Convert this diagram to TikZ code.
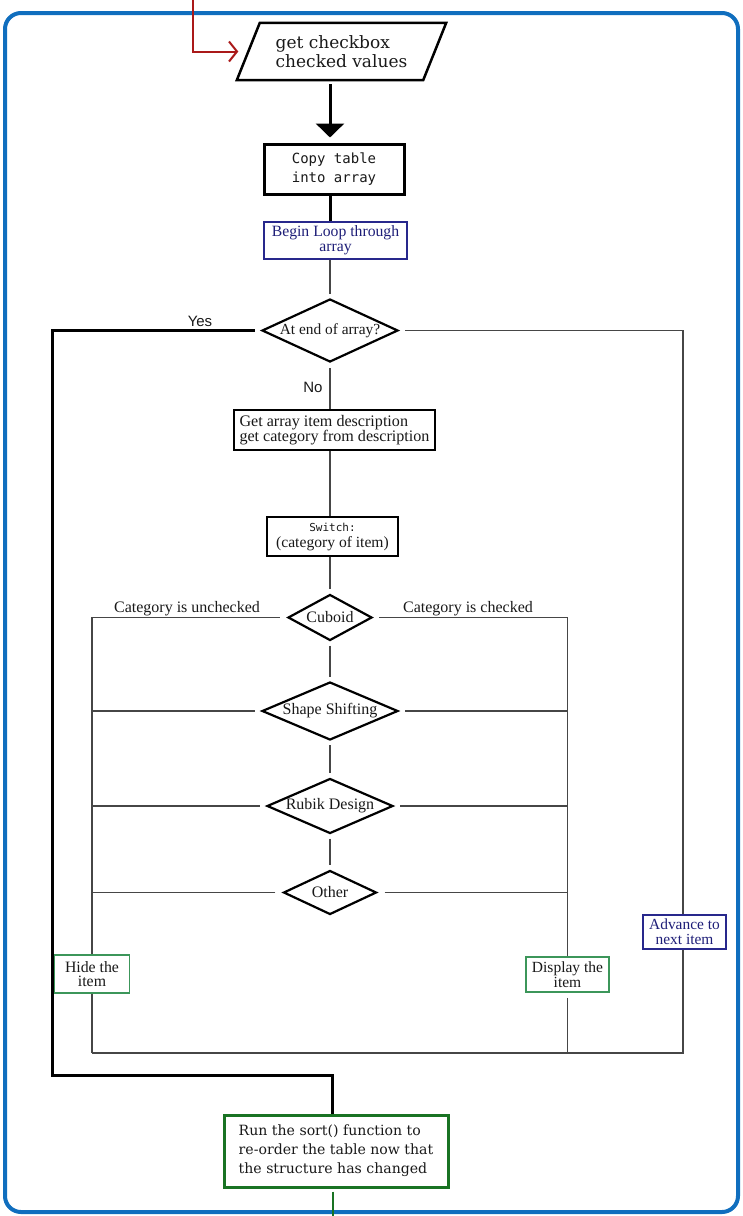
\documentclass[tikz,border=0pt]{standalone}
\usepackage{fontspec}
\setmainfont{Liberation Serif}
\newfontfamily\sansf{Liberation Sans}
\newfontfamily\monof{DejaVu Sans Mono}
\newfontfamily\wideserif{DejaVu Serif}
\usetikzlibrary{shapes.geometric,arrows.meta}
\definecolor{framecol}{RGB}{16,110,190}
\definecolor{redcol}{RGB}{170,25,25}
\definecolor{navycol}{RGB}{40,40,140}
\definecolor{navytxt}{RGB}{30,30,120}
\definecolor{greencol}{RGB}{60,150,90}
\definecolor{darkgreen}{RGB}{25,115,35}
\definecolor{linecol}{RGB}{70,70,70}
\definecolor{txtcol}{RGB}{25,25,25}
\newcommand\fsz[2]{\fontsize{#1}{#2}\selectfont}
\tikzset{
  thinln/.style={draw=linecol, line width=1.3pt},
  thickln/.style={draw=black, line width=3pt},
  boxplain/.style={draw=black, line width=1.3pt, fill=white, inner sep=0pt, align=center, text=txtcol},
  boxnavy/.style={draw=navycol, line width=1.3pt, fill=white, inner sep=0pt, align=center, text=navytxt},
  boxgreen/.style={draw=greencol, line width=1.5pt, fill=white, inner sep=0pt, align=center, text=txtcol},
  dia/.style={shape=diamond, draw=black, line width=2.2pt, inner sep=0pt, fill=white, text=txtcol, font=\fsz{16}{18}},
  lbl/.style={inner sep=0pt, text=txtcol},
}
\begin{document}
\begin{tikzpicture}[x=1pt,y=-1pt]
\useasboundingbox (0,0) rectangle (742,1216);
% frame
\draw[draw=framecol, line width=4pt, rounded corners=16pt] (5,13) rectangle (738,1212);

% nodes
\node[inner sep=0pt, minimum width=186pt, minimum height=57pt, align=left, text=txtcol, font=\wideserif\fsz{17}{18.5}] (get) at (341.5,51.5) {get checkbox\\checked values};
\draw[line width=2.5pt, line join=miter]
  ([xshift=-11.5pt]get.south west) -- ([xshift=11.5pt]get.north west) --
  ([xshift=11.5pt]get.north east) -- ([xshift=-11.5pt]get.south east) -- cycle;

\node[boxplain, line width=3pt, minimum width=140pt, minimum height=50pt, font=\monof\fsz{14}{19}] (copy) at (334,169) {Copy table\\into array};
\node[boxnavy, minimum width=143pt, minimum height=37pt, font=\fsz{15.7}{15}] (begin) at (335.5,240.5) {Begin Loop through\\array};
\node[dia, minimum width=136pt, minimum height=63pt, font=\fsz{15.4}{17}] (atend) at (330,330.5) {\makebox[0pt]{At end of array?}};
\node[boxplain, minimum width=201pt, minimum height=40pt, align=left, font=\fsz{16.1}{15}] (item) at (334.5,430) {Get array item description\\get category from description};
\node[boxplain, minimum width=131pt, minimum height=39pt, font=\fsz{15.6}{16}] (switch) at (332.5,536.5) {{\monof\fsz{11}{14}Switch:}\\(category of item)};

\node[dia, minimum width=84pt, minimum height=46pt] (cub) at (330,617.5) {\makebox[0pt]{Cuboid}};
\node[dia, minimum width=136pt, minimum height=58pt] (shape) at (330,711) {\makebox[0pt]{Shape Shifting}};
\node[dia, minimum width=126pt, minimum height=55pt] (rubik) at (330,806) {\makebox[0pt]{Rubik Design}};
\node[dia, minimum width=93pt, minimum height=44pt] (other) at (330,892.5) {\makebox[0pt]{Other}};

\coordinate (RRx) at (683,0);
\coordinate (bot) at (92,1053);

\node[boxgreen, minimum width=75pt, minimum height=38pt, font=\fsz{15.8}{14.5}] (hide) at (92,974) {Hide the\\item};
\node[boxgreen, minimum width=83pt, minimum height=35pt, font=\fsz{15.5}{14.5}] (disp) at (567.5,974.5) {Display the\\item};

\node[draw=darkgreen, line width=3pt, fill=white, inner sep=0pt, minimum width=224pt, minimum height=72pt, align=left, text=txtcol, font=\wideserif\fsz{14.1}{19}] (sort) at (336,1151) {Run the sort() function to\\re-order the table now that\\the structure has changed};

% red entry arrow
\coordinate (redstart) at (193,0);
\draw[draw=redcol, line width=2pt, -{Straight Barb[length=8pt,width=20pt,line width=2pt]}, shorten >=10pt] (redstart) |- (get.west);

% main thick flow
\draw[thickln, -{Triangle[width=28pt,length=14pt]}, shorten <=4pt, shorten >=5pt] (get.south -| copy.north) ++(-4pt,0) coordinate (ga) -- (ga |- copy.north);
\draw[thickln] (copy.south -| atend.north) -- (begin.north -| atend.north);
\draw[thinln, shorten >=4pt] (begin.south -| atend.north) -- (atend.north);

% Yes branch
\draw[thickln, shorten <=6pt] (atend.west) -| (52,1075) -| (sort.north -| 332,0);
\node[lbl, font=\sansf\fsz{15}{17}] (yes) at (200,321) {Yes};
% No branch
\draw[thinln, shorten <=5pt] (atend.south) -- (item.north -| atend.south);
\node[lbl, font=\sansf\fsz{15}{17}] (no) at (313,387) {No};
\draw[thinln] (item.south -| atend.south) -- (switch.north -| atend.south);
\draw[thinln, shorten >=4pt] (switch.south -| cub.north) -- (cub.north);

% right loop to advance
\node[boxnavy, minimum width=83pt, minimum height=34pt, font=\fsz{15.4}{15}] (adv) at (684.5,932) {Advance to\\next item};
\draw[thinln, shorten <=6pt] (atend.east) -| (adv.north -| RRx);
\draw[thinln] (adv.south -| RRx) |- (bot);

% case diamonds chain
\draw[thinln, shorten <=4pt, shorten >=4pt] (cub.south) -- (shape.north);
\draw[thinln, shorten <=4pt, shorten >=4pt] (shape.south) -- (rubik.north);
\draw[thinln, shorten <=4pt, shorten >=4pt] (rubik.south) -- (other.north);

% unchecked side
\draw[thinln, shorten <=7pt] (cub.west) -| (hide.north);
\draw[thinln, shorten <=6pt] (shape.west) -- (shape.west -| hide.north);
\draw[thinln, shorten <=6pt] (rubik.west) -- (rubik.west -| hide.north);
\draw[thinln, shorten <=7pt] (other.west) -- (other.west -| hide.north);
\draw[thinln] (hide.south) -- (hide.south |- bot);
% checked side
\draw[thinln, shorten <=6pt] (cub.east) -| (disp.north);
\draw[thinln, shorten <=6pt] (shape.east) -- (shape.east -| disp.north);
\draw[thinln, shorten <=6pt] (rubik.east) -- (rubik.east -| disp.north);
\draw[thinln, shorten <=7pt] (other.east) -- (other.east -| disp.north);
\draw[thinln, shorten <=5pt] (disp.south) -- (disp.south |- bot);

\node[lbl, font=\fsz{16}{17}] (unchk) at (187,608.5) {Category is unchecked};
\node[lbl, font=\fsz{16}{17}] (chk) at (468,608.5) {Category is checked};

% exit line
\coordinate (exitend) at (333,1216);
\draw[draw=darkgreen, line width=2pt, shorten <=3pt] (sort.south -| exitend) -- (exitend);
\end{tikzpicture}
\end{document}
